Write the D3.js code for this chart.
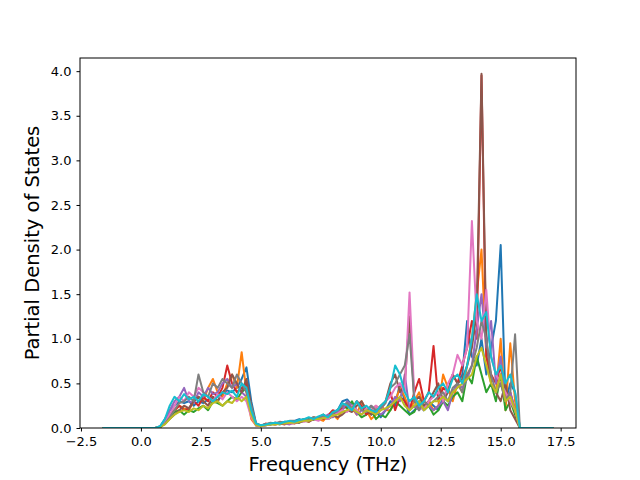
<!doctype html>
<html>
<head>
<meta charset="UTF-8">
<script src="https://d3js.org/d3.v7.min.js"></script>
<style>body{margin:0;background:#fff}</style>
</head>
<body>
<script>
// frequency grid (THz)
var freq = [-1.6,
  0.4,0.6,0.8,1.0,1.2,1.4,1.6,1.8,2.0,2.2,
  2.4,2.6,2.8,3.0,3.2,3.4,3.6,3.8,4.0,4.2,
  4.4,4.6,4.8,5.0,5.2,5.4,5.6,5.8,6.0,6.2,
  6.4,6.6,6.8,7.0,7.2,7.4,7.6,7.8,8.0,8.2,
  8.4,8.6,8.8,9.0,9.2,9.4,9.6,9.8,10.0,10.2,
  10.4,10.6,10.8,11.0,11.2,11.4,11.6,11.8,12.0,12.2,
  12.4,12.6,12.8,13.0,13.2,13.4,13.6,13.8,14.0,14.2,
  14.4,14.6,14.8,15.0,15.2,15.4,15.6,15.8,
  17.2];

var pdos0 = [0, 0,0,0.02,0.1,0.2,0.25,0.3,0.28,0.3,0.25, 0.3,0.28,0.32,0.35,0.3,0.38,0.42,0.4,0.45,0.55, 0.68,0.3,0.05,0.03,0.04,0.05,0.06,0.05,0.07,0.06, 0.08,0.1,0.08,0.1,0.12,0.1,0.15,0.12,0.18,0.2, 0.3,0.32,0.25,0.2,0.15,0.2,0.15,0.18,0.12,0.2, 0.3,0.25,0.5,0.3,0.15,0.2,0.25,0.2,0.3,0.25, 0.2,0.35,0.3,0.4,0.5,0.6,1.2,0.8,0.7,1.0, 0.6,0.9,1.2,2.05,0.3,0.5,0.4,0, 0];
var pdos1 = [0, 0,0,0.01,0.08,0.15,0.2,0.25,0.22,0.2,0.3, 0.35,0.3,0.45,0.55,0.4,0.35,0.5,0.6,0.45,0.85, 0.4,0.1,0.03,0.02,0.04,0.05,0.04,0.06,0.05,0.07, 0.06,0.08,0.1,0.07,0.12,0.1,0.08,0.14,0.15,0.1, 0.2,0.28,0.22,0.15,0.3,0.2,0.1,0.15,0.25,0.2, 0.2,0.3,0.45,0.35,0.2,0.3,0.4,0.25,0.3,0.2, 0.25,0.6,0.45,0.3,0.5,0.4,0.7,1.0,1.5,2.0, 0.8,0.5,0.4,1.0,0.2,0.95,0.3,0, 0];
var pdos2 = [0, 0,0,0.01,0.05,0.12,0.18,0.2,0.15,0.2,0.18, 0.22,0.25,0.2,0.3,0.28,0.25,0.3,0.35,0.32,0.4, 0.45,0.2,0.04,0.02,0.03,0.04,0.05,0.04,0.06,0.05, 0.07,0.06,0.08,0.1,0.09,0.12,0.15,0.1,0.13,0.2, 0.25,0.22,0.3,0.18,0.12,0.15,0.2,0.1,0.15,0.12, 0.2,0.3,0.25,0.2,0.15,0.18,0.3,0.2,0.25,0.15, 0.2,0.3,0.25,0.35,0.4,0.3,0.6,0.5,0.8,0.6, 0.4,0.5,0.3,0.6,0.2,0.3,0.15,0, 0];
var pdos3 = [0, 0,0,0.01,0.06,0.14,0.2,0.25,0.2,0.22,0.3, 0.25,0.35,0.3,0.4,0.35,0.45,0.7,0.5,0.4,0.45, 0.5,0.2,0.03,0.02,0.05,0.04,0.06,0.05,0.04,0.06, 0.05,0.08,0.1,0.09,0.1,0.12,0.1,0.14,0.2,0.18, 0.22,0.25,0.2,0.3,0.25,0.15,0.2,0.25,0.2,0.3, 0.4,0.2,0.35,0.3,0.2,0.4,0.55,0.3,0.4,0.92, 0.3,0.45,0.4,0.6,0.5,0.7,0.9,1.2,1.0,3.95, 0.8,0.6,0.5,0.7,0.3,0.4,0.2,0, 0];
var pdos4 = [0, 0,0,0.01,0.07,0.2,0.3,0.35,0.45,0.3,0.28, 0.4,0.35,0.45,0.38,0.4,0.5,0.55,0.45,0.5,0.4, 0.35,0.15,0.03,0.02,0.03,0.04,0.05,0.06,0.05,0.04, 0.06,0.07,0.09,0.08,0.11,0.1,0.12,0.15,0.12,0.18, 0.2,0.3,0.25,0.15,0.2,0.18,0.25,0.2,0.15,0.2, 0.25,0.35,0.3,0.6,0.2,0.25,0.2,0.3,0.25,0.2, 0.25,0.3,0.2,0.4,0.5,0.45,0.55,0.7,1.1,1.5, 0.9,1.2,0.5,0.8,0.3,0.4,0.2,0, 0];
var pdos5 = [0, 0,0,0.01,0.05,0.1,0.15,0.2,0.25,0.22,0.3, 0.35,0.3,0.25,0.35,0.3,0.4,0.45,0.6,0.5,0.4, 0.55,0.25,0.04,0.03,0.04,0.05,0.04,0.05,0.06,0.05, 0.07,0.06,0.08,0.07,0.1,0.09,0.12,0.1,0.15,0.12, 0.15,0.2,0.18,0.25,0.3,0.2,0.15,0.2,0.25,0.3, 0.5,0.6,0.4,0.5,1.25,0.3,0.35,0.25,0.3,0.4, 0.5,0.3,0.4,0.6,0.5,0.55,0.7,0.9,1.3,3.97, 1.0,0.5,0.4,0.3,0.5,0.2,0.1,0, 0];
var pdos6 = [0, 0,0,0.01,0.06,0.15,0.25,0.35,0.3,0.4,0.35, 0.45,0.4,0.35,0.3,0.38,0.32,0.4,0.35,0.3,0.35, 0.3,0.12,0.03,0.02,0.03,0.05,0.04,0.05,0.06,0.05, 0.06,0.08,0.07,0.09,0.1,0.08,0.12,0.1,0.14,0.16, 0.2,0.18,0.25,0.2,0.15,0.22,0.18,0.25,0.2,0.3, 0.35,0.45,0.5,0.4,1.52,0.35,0.25,0.2,0.3,0.35, 0.4,0.3,0.5,0.6,0.82,0.7,0.9,2.32,1.2,1.0, 1.55,0.8,0.6,0.5,0.4,0.3,0.2,0, 0];
var pdos7 = [0, 0,0,0.01,0.05,0.12,0.2,0.28,0.3,0.35,0.3, 0.6,0.4,0.35,0.5,0.45,0.55,0.5,0.45,0.6,0.5, 0.4,0.25,0.05,0.03,0.04,0.06,0.05,0.07,0.06,0.08, 0.08,0.07,0.1,0.09,0.12,0.11,0.14,0.12,0.16,0.2, 0.25,0.28,0.22,0.3,0.2,0.18,0.25,0.2,0.22,0.28, 0.45,0.5,0.6,0.7,1.05,0.3,0.2,0.3,0.25,0.3, 0.35,0.4,0.3,0.45,0.5,0.4,0.6,0.7,0.9,1.2, 1.0,0.6,0.4,0.5,0.3,0.4,1.05,0, 0];
var pdos8 = [0, 0,0,0.01,0.04,0.1,0.15,0.18,0.2,0.18,0.22, 0.2,0.25,0.22,0.28,0.3,0.25,0.3,0.28,0.35,0.3, 0.35,0.15,0.03,0.02,0.03,0.04,0.04,0.05,0.05,0.06, 0.06,0.07,0.08,0.08,0.1,0.1,0.11,0.12,0.14,0.15, 0.18,0.2,0.22,0.18,0.15,0.2,0.18,0.15,0.2,0.22, 0.25,0.3,0.35,0.25,0.2,0.25,0.3,0.2,0.25,0.3, 0.3,0.35,0.3,0.4,0.45,0.5,0.55,0.6,0.8,0.9, 0.7,0.5,0.4,0.6,0.3,0.35,0.2,0, 0];
var pdos9 = [0, 0,0,0.02,0.1,0.25,0.35,0.3,0.38,0.32,0.35, 0.3,0.38,0.35,0.3,0.35,0.4,0.38,0.42,0.35,0.5, 0.45,0.2,0.05,0.03,0.04,0.05,0.06,0.05,0.07,0.08, 0.07,0.09,0.1,0.12,0.1,0.13,0.15,0.12,0.18,0.2, 0.28,0.25,0.2,0.3,0.22,0.25,0.2,0.18,0.25,0.3, 0.45,0.7,0.6,0.4,0.3,0.35,0.25,0.3,0.4,0.35, 0.45,0.5,0.4,0.55,0.6,0.5,0.7,1.0,1.5,1.2, 1.3,0.8,0.6,0.7,0.5,0.6,0.4,0, 0];

var series = [pdos0, pdos1, pdos2, pdos3, pdos4, pdos5, pdos6, pdos7, pdos8, pdos9];
var colors = ["#1f77b4","#ff7f0e","#2ca02c","#d62728","#9467bd","#8c564b","#e377c2","#7f7f7f","#bcbd22","#17becf"];
var xTicks = [-2.5, 0.0, 2.5, 5.0, 7.5, 10.0, 12.5, 15.0, 17.5];
var yTicks = [0.0, 0.5, 1.0, 1.5, 2.0, 2.5, 3.0, 3.5, 4.0];

var margin = {top: 58, right: 64, bottom: 52, left: 80},
	width = 640 - margin.left - margin.right,
	height = 480 - margin.top - margin.bottom;

var svg = d3.select("body").append("svg")
	.attr("width", 640).attr("height", 480)
	.style("font-family", "DejaVu Sans");

var g = svg.append("g").attr("transform", "translate(" + margin.left + "," + margin.top + ")");

var x = d3.scaleLinear().domain([-2.54, 18.14]).range([0, width]);
var y = d3.scaleLinear().domain([0, 4.1475]).range([height, 0]);

g.append("clipPath").attr("id", "clip").append("rect")
	.attr("width", width).attr("height", height);

var line = d3.line()
	.x(function(d, i) { return x(freq[i]); })
	.y(function(d) { return y(d); });

g.append("g").attr("clip-path", "url(#clip)")
	.selectAll("path").data(series).enter().append("path")
	.attr("d", line)
	.attr("fill", "none")
	.attr("stroke", function(d, i) { return colors[i]; })
	.attr("stroke-width", 2)
	.attr("stroke-linejoin", "round");

var xAxis = g.append("g").attr("transform", "translate(0," + height + ")")
	.call(d3.axisBottom(x).tickValues(xTicks).tickFormat(d3.format(".1f")).tickSizeOuter(0).tickSize(3.5).tickPadding(5));
var yAxis = g.append("g")
	.call(d3.axisLeft(y).tickValues(yTicks).tickFormat(d3.format(".1f")).tickSizeOuter(0).tickSize(3.5).tickPadding(5));
[xAxis, yAxis].forEach(function(a) {
	a.selectAll("text").attr("font-size", 13).attr("font-family", "DejaVu Sans").attr("fill", "#000");
	a.selectAll("line").attr("stroke", "#000");
	a.select(".domain").remove();
});

g.append("rect").attr("width", width).attr("height", height)
	.attr("fill", "none").attr("stroke", "#000").attr("stroke-width", 1);

svg.append("text").attr("x", margin.left + width / 2).attr("y", 471)
	.attr("text-anchor", "middle").attr("font-size", 19.5).text("Frequency (THz)");
svg.append("text").attr("transform", "translate(39," + (margin.top + height / 2) + ") rotate(-90)")
	.attr("text-anchor", "middle").attr("font-size", 19.5).text("Partial Density of States");
</script>
</body>
</html>
